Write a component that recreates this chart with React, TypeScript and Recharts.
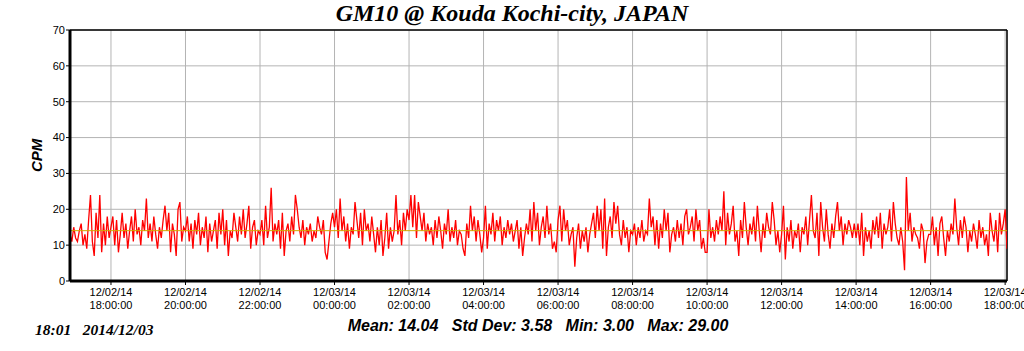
import { LineChart, Line, XAxis, YAxis, CartesianGrid, ReferenceLine } from 'recharts';

// CPM readings every 3 minutes, minutes counted from 12/02 00:00
const startMinute = 16 * 60 + 54;
const stepMinutes = 3;

const cpm1654 = [13, 11, 15, 12, 11, 14, 16, 10, 13, 9, 17, 24, 11, 7, 19, 12, 24, 8, 16, 10, 18, 12];
const cpm1800 = [15, 18, 10, 17, 8, 13, 19, 12, 16, 9, 14, 18, 11, 20, 13, 15, 10, 17, 14, 23, 12, 16, 11, 18, 13, 9, 15, 12, 17, 21, 14, 19, 8, 16, 13, 7, 20, 22, 11, 15];
const cpm2000 = [14, 18, 11, 16, 9, 17, 13, 19, 10, 15, 12, 18, 8, 16, 11, 14, 17, 9, 19, 13, 20, 10, 17, 7, 14, 12, 19, 15, 11, 18, 13, 20, 12, 16, 21, 9, 15, 17, 10, 14];
const cpm2200 = [13, 17, 10, 21, 12, 15, 26, 11, 16, 13, 17, 9, 19, 7, 14, 16, 11, 18, 13, 24, 20, 15, 12, 17, 10, 15, 13, 16, 11, 14, 12, 18, 15, 13, 17, 8, 6, 11, 16, 19];
const cpm0000 = [15, 20, 12, 23, 14, 18, 11, 16, 9, 15, 13, 22, 17, 12, 19, 10, 20, 14, 16, 11, 18, 13, 8, 15, 10, 17, 7, 12, 19, 9, 15, 11, 14, 24, 13, 17, 10, 19, 14, 20];
const cpm0200 = [17, 24, 15, 24, 12, 22, 18, 14, 19, 11, 16, 13, 15, 10, 17, 12, 18, 14, 9, 16, 13, 20, 11, 15, 12, 17, 10, 14, 13, 9, 7, 16, 12, 21, 14, 18, 11, 17, 13, 8];
const cpm0400 = [12, 21, 9, 16, 13, 19, 11, 17, 14, 18, 10, 15, 12, 17, 13, 16, 11, 14, 17, 9, 15, 7, 12, 16, 13, 20, 11, 22, 14, 19, 10, 15, 18, 12, 21, 13, 16, 9, 11, 8];
const cpm0600 = [17, 21, 11, 20, 14, 17, 10, 13, 15, 4, 12, 16, 9, 14, 11, 15, 8, 13, 16, 19, 12, 21, 14, 20, 9, 23, 7, 15, 18, 12, 22, 16, 21, 13, 10, 17, 12, 15, 8, 14];
const cpm0800 = [13, 16, 10, 15, 12, 17, 11, 14, 13, 23, 15, 18, 10, 17, 9, 16, 12, 20, 14, 19, 8, 13, 15, 11, 17, 12, 16, 10, 18, 20, 13, 15, 18, 11, 20, 14, 17, 9, 12, 8];
const cpm1000 = [8, 20, 12, 15, 11, 17, 13, 18, 14, 25, 10, 19, 13, 16, 21, 11, 14, 7, 17, 12, 22, 15, 10, 16, 13, 18, 11, 21, 14, 8, 16, 12, 19, 15, 13, 22, 17, 10, 14, 8];
const cpm1200 = [13, 21, 6, 15, 11, 17, 9, 14, 12, 16, 8, 15, 13, 18, 10, 17, 24, 14, 12, 19, 7, 22, 15, 11, 20, 13, 9, 16, 12, 18, 22, 14, 18, 10, 16, 13, 17, 15, 12, 16];
const cpm1400 = [12, 16, 10, 19, 7, 15, 11, 14, 9, 17, 13, 18, 12, 19, 9, 16, 13, 15, 20, 11, 22, 16, 12, 10, 15, 11, 3, 29, 14, 19, 11, 15, 13, 12, 9, 16, 14, 5, 11, 13];
const cpm1600 = [13, 18, 10, 15, 7, 16, 18, 12, 7, 14, 11, 16, 13, 23, 15, 10, 17, 12, 18, 15, 8, 14, 11, 16, 13, 9, 17, 12, 15, 10, 13, 7, 19, 14, 11, 17, 8, 19, 13, 16];
const cpm1800end = [20, 9];

const xTicks = [18, 20, 22, 24, 26, 28, 30, 32, 34, 36, 38, 40, 42].map((h) => h * 60);
const yTicks = [0, 10, 20, 30, 40, 50, 60, 70];
const meanCpm = 14.04;

const allCpm = [
  ...cpm1654, ...cpm1800, ...cpm2000, ...cpm2200, ...cpm0000, ...cpm0200, ...cpm0400,
  ...cpm0600, ...cpm0800, ...cpm1000, ...cpm1200, ...cpm1400, ...cpm1600, ...cpm1800end,
];
const data = allCpm.map((v, i) => ({ t: startMinute + i * stepMinutes, cpm: v }));
const endMinute = startMinute + (allCpm.length - 1) * stepMinutes;

const pad = (n: number) => (n < 10 ? '0' + n : '' + n);

function TimeTick(props: any) {
  const { x, y, payload } = props;
  const m = payload.value as number;
  const day = m < 1440 ? '12/02/14' : '12/03/14';
  const hh = Math.floor((m % 1440) / 60);
  return (
    <text x={x} y={y} textAnchor="middle" fontFamily="Liberation Sans, Arial" fontSize={11} fill="#000">
      <tspan x={x} dy={9}>{day}</tspan>
      <tspan x={x} dy={13}>{pad(hh) + ':00:00'}</tspan>
    </text>
  );
}

export default function App() {
  return (
    <div style={{ position: 'absolute', left: 0, top: 0, width: 1024, height: 351, background: '#fff', overflow: 'hidden' }}>
      <div
        style={{
          position: 'absolute', left: 0, top: 0, width: 1024, textAlign: 'center',
          fontFamily: 'Liberation Serif, Times New Roman', fontStyle: 'italic', fontWeight: 'bold', fontSize: 24,
        }}
      >
        GM10 @ Kouda Kochi-city, JAPAN
      </div>
      <LineChart width={1024} height={351} data={data} margin={{ top: 30, right: 17, left: 0, bottom: 0 }}>
        <CartesianGrid stroke="#b4b4b4" strokeWidth={1} />
        <XAxis
          dataKey="t"
          type="number"
          domain={[startMinute, endMinute]}
          ticks={xTicks}
          height={70}
          tick={<TimeTick />}
          tickSize={4}
          tickLine={{ stroke: '#000' }}
          axisLine={{ stroke: '#000', strokeWidth: 3 }}
          interval={0}
          allowDataOverflow
        />
        <YAxis
          domain={[0, 70]}
          ticks={yTicks}
          width={70}
          tickSize={4}
          tickMargin={1}
          tick={{ fontFamily: 'Liberation Sans, Arial', fontSize: 11, fill: '#000' }}
          tickLine={{ stroke: '#000' }}
          axisLine={{ stroke: '#000', strokeWidth: 3 }}
          interval={0}
        />
        <ReferenceLine y={70} stroke="#000" strokeWidth={1.5} />
        <ReferenceLine x={endMinute} stroke="#000" strokeWidth={1.5} />
        <Line type="linear" dataKey="cpm" stroke="#ff0000" strokeWidth={1.3} dot={false} isAnimationActive={false} />
        <ReferenceLine y={meanCpm} stroke="#d4a800" strokeWidth={1} />
      </LineChart>
      <div
        style={{
          position: 'absolute', left: 28, top: 156, transform: 'rotate(-90deg)', transformOrigin: 'left top',
          fontFamily: 'Liberation Sans, Arial', fontStyle: 'italic', fontWeight: 'bold', fontSize: 15,
        }}
      >
        <span style={{ position: 'absolute', left: -16, top: 0 }}>CPM</span>
      </div>
      <div
        style={{
          position: 'absolute', left: 288, top: 317, width: 500, textAlign: 'center', whiteSpace: 'pre',
          fontFamily: 'Liberation Sans, Arial', fontStyle: 'italic', fontWeight: 'bold', fontSize: 16,
        }}
      >
        {'Mean: 14.04   Std Dev: 3.58   Min: 3.00   Max: 29.00'}
      </div>
      <div
        style={{
          position: 'absolute', left: 35, top: 321, whiteSpace: 'pre',
          fontFamily: 'Liberation Serif, Times New Roman', fontStyle: 'italic', fontWeight: 'bold', fontSize: 15.5,
        }}
      >
        {'18:01   2014/12/03'}
      </div>
    </div>
  );
}
